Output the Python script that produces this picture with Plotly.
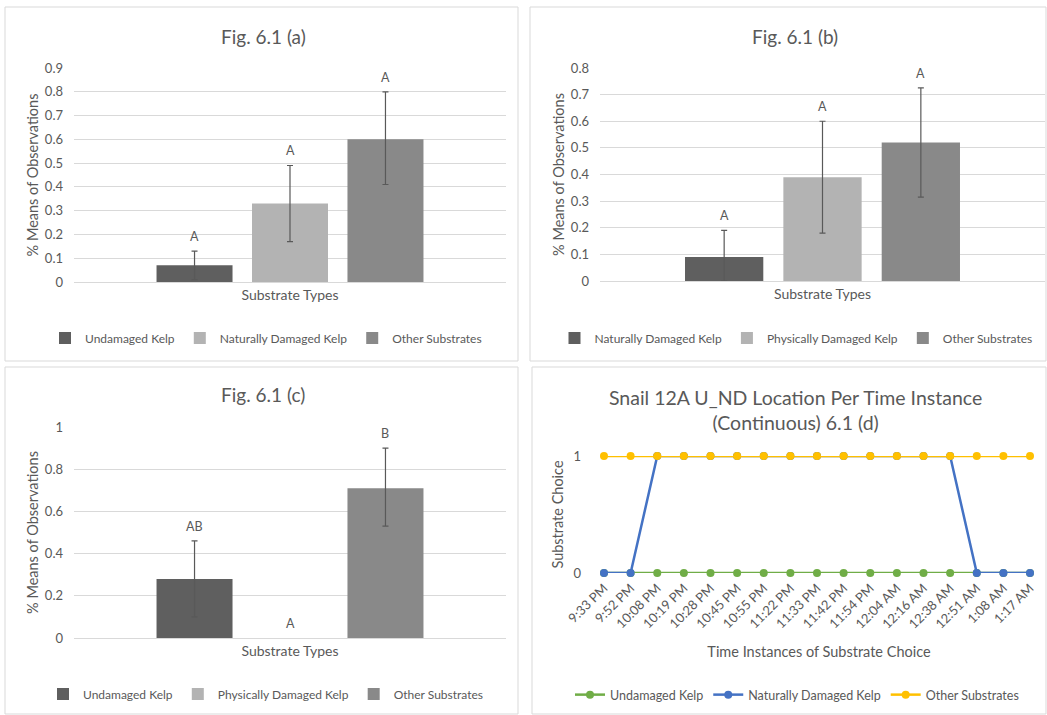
import plotly.graph_objects as go

W, H = 1047, 715
FONT = "Lato, Carlito, Calibri, 'Open Sans', sans-serif"
TXT = "#595959"
GRID = "#d9d9d9"
BARGAP = 0.337
BARGROUPGAP = 0.204

# ---------------- data ----------------
category = ["Substrate Types"]

a_names = ["Undamaged Kelp", "Naturally Damaged Kelp", "Other Substrates"]
a_values = [0.07, 0.33, 0.60]
a_err_plus = [0.06, 0.16, 0.20]
a_err_minus = [0.06, 0.16, 0.19]
a_letters = ["A", "A", "A"]

b_names = ["Naturally Damaged Kelp", "Physically Damaged Kelp", "Other Substrates"]
b_values = [0.09, 0.39, 0.52]
b_err_plus = [0.10, 0.21, 0.205]
b_err_minus = [0.09, 0.21, 0.205]
b_letters = ["A", "A", "A"]

c_names = ["Undamaged Kelp", "Physically Damaged Kelp", "Other Substrates"]
c_values = [0.28, 0.0, 0.71]
c_err_plus = [0.18, 0.0, 0.19]
c_err_minus = [0.18, 0.0, 0.18]
c_letters = ["AB", "A", "B"]

bar_colors = ["#5f5f5f", "#b3b3b3", "#898989"]

times = ["9:33 PM", "9:52 PM", "10:08 PM", "10:19 PM", "10:28 PM", "10:45 PM",
         "10:55 PM", "11:22 PM", "11:33 PM", "11:42 PM", "11:54 PM", "12:04 AM",
         "12:16 AM", "12:38 AM", "12:51 AM", "1:08 AM", "1:17 AM"]
undamaged = [0, 0, 0, 0, 0, 0, 0, 0, 0, 0, 0, 0, 0, 0, 0, 0, 0]
nat_damaged = [0, 0, 1, 1, 1, 1, 1, 1, 1, 1, 1, 1, 1, 1, 0, 0, 0]
other = [1, 1, 1, 1, 1, 1, 1, 1, 1, 1, 1, 1, 1, 1, 1, 1, 1]
line_names = ["Undamaged Kelp", "Naturally Damaged Kelp", "Other Substrates"]
line_colors = ["#70ad47", "#4472c4", "#ffc000"]

# ---------------- helpers ----------------
def px_x(p):
    return p / W

def px_y(p):
    return 1 - p / H

fig = go.Figure()

panels = [
    dict(ax="", names=a_names, vals=a_values, ep=a_err_plus, em=a_err_minus,
         letters=a_letters, legend="legend", rng=[0, 0.9], dtick=0.1,
         xd=[74, 506], yd=[68, 282], title="Fig. 6.1 (a)", tx=263, ty=37,
         lx=266, ly=338),
    dict(ax="2", names=b_names, vals=b_values, ep=b_err_plus, em=b_err_minus,
         letters=b_letters, legend="legend2", rng=[0, 0.8], dtick=0.1,
         xd=[600, 1045], yd=[68, 281], title="Fig. 6.1 (b)", tx=795, ty=37,
         lx=796, ly=338),
    dict(ax="3", names=c_names, vals=c_values, ep=c_err_plus, em=c_err_minus,
         letters=c_letters, legend="legend3", rng=[0, 1.0], dtick=0.2,
         xd=[74, 506], yd=[427, 638], title="Fig. 6.1 (c)", tx=263, ty=395,
         lx=266, ly=694),
]

for p in panels:
    for i, (nm, v) in enumerate(zip(p["names"], p["vals"])):
        fig.add_trace(go.Bar(
            x=category, y=[v], name=nm,
            marker=dict(color=bar_colors[i], line=dict(width=0)),
            error_y=dict(type="data", symmetric=False, array=[p["ep"][i]],
                         arrayminus=[p["em"][i]], color="#595959",
                         thickness=1.2, width=3, visible=p["ep"][i] > 0),
            xaxis="x" + p["ax"], yaxis="y" + p["ax"], legend=p["legend"],
        ))
    # letters above error bars
    n = len(p["vals"])
    for i in range(n):
        pos = (i - (n - 1) / 2) * (1 - BARGAP) / n
        fig.add_annotation(
            x=pos, y=p["vals"][i] + p["ep"][i], xref="x" + p["ax"], yref="y" + p["ax"],
            text=p["letters"][i], showarrow=False, yanchor="bottom", yshift=5,
            font=dict(family=FONT, size=12.5, color=TXT))
    ka = p["ax"]
    fig.update_layout(**{
        "xaxis" + ka: dict(domain=[px_x(p["xd"][0]), px_x(p["xd"][1])],
                           anchor="y" + ka, type="category", showgrid=False,
                           showline=False, ticks="", range=[-0.5, 0.5],
                           automargin=False, ticklabelstandoff=3,
                           tickfont=dict(family=FONT, size=14, color=TXT)),
        "yaxis" + ka: dict(domain=[px_y(p["yd"][1]), px_y(p["yd"][0])],
                           anchor="x" + ka, range=p["rng"], dtick=p["dtick"],
                           gridcolor=GRID, gridwidth=1, zeroline=True,
                           zerolinecolor=GRID, zerolinewidth=1, showline=False,
                           ticks="", automargin=False, ticklabelstandoff=10,
                           tickfont=dict(family=FONT, size=13, color=TXT),
                           title=dict(text="% Means of Observations", standoff=2,
                                      font=dict(family=FONT, size=14.5, color=TXT))),
        p["legend"]: dict(orientation="h", x=px_x(p["lx"]), xanchor="center",
                          y=px_y(p["ly"]), yanchor="middle", itemwidth=30,
                          font=dict(family=FONT, size=12, color=TXT),
                          bgcolor="rgba(0,0,0,0)", traceorder="normal"),
    })
    fig.add_annotation(x=px_x(p["tx"]), y=px_y(p["ty"]), xref="paper", yref="paper",
                       text=p["title"], showarrow=False, xanchor="center",
                       yanchor="middle", font=dict(family=FONT, size=19, color=TXT))

# ---------------- panel d (lines) ----------------
for nm, ys, col in zip(line_names, [undamaged, nat_damaged, other], line_colors):
    fig.add_trace(go.Scatter(
        x=times, y=ys, name=nm, mode="lines+markers",
        line=dict(color=col, width=2.5), marker=dict(color=col, size=8),
        xaxis="x4", yaxis="y4", legend="legend4", cliponaxis=False,
    ))

fig.update_layout(
    xaxis4=dict(domain=[px_x(592), px_x(1046)], anchor="y4", type="category",
                range=[-0.45, 16.6], showgrid=False, showline=False, ticks="",
                tickangle=-45, automargin=False, ticklabelstandoff=4,
                tickfont=dict(family=FONT, size=13, color=TXT),
                title=dict(text="Time Instances of Substrate Choice", standoff=16,
                           font=dict(family=FONT, size=14.5, color=TXT))),
    yaxis4=dict(domain=[px_y(573), px_y(456)], anchor="x4", range=[0, 1],
                tickvals=[0, 1], gridcolor=GRID, zeroline=False, showline=False,
                ticks="", automargin=False, ticklabelstandoff=10,
                tickfont=dict(family=FONT, size=13, color=TXT),
                title=dict(text="Substrate Choice", standoff=6,
                           font=dict(family=FONT, size=14.5, color=TXT))),
    legend4=dict(orientation="h", x=px_x(797), xanchor="center", y=px_y(695),
                 yanchor="middle", font=dict(family=FONT, size=12.5, color=TXT),
                 bgcolor="rgba(0,0,0,0)", traceorder="normal"),
)
fig.add_annotation(x=px_x(795), y=px_y(410), xref="paper", yref="paper",
                   text="Snail 12A U_ND Location Per Time Instance<br>(Continuous) 6.1 (d)",
                   showarrow=False, xanchor="center", yanchor="middle",
                   font=dict(family=FONT, size=19.5, color=TXT))

# ---------------- panel borders ----------------
for x0, y0, x1, y1 in [(5, 7, 518, 361), (530, 7, 1046, 361),
                       (5, 367, 518, 714), (532, 367, 1046, 714)]:
    fig.add_shape(type="rect", xref="paper", yref="paper",
                  x0=px_x(x0), x1=px_x(x1), y0=px_y(y1), y1=px_y(y0),
                  line=dict(color=GRID, width=1), fillcolor="rgba(0,0,0,0)")

fig.update_layout(
    width=W, height=H, margin=dict(l=0, r=0, t=0, b=0, autoexpand=False),
    paper_bgcolor="white", plot_bgcolor="white",
    barmode="group", bargap=BARGAP, bargroupgap=BARGROUPGAP,
    font=dict(family=FONT, color=TXT),
)

fig.write_html("out.html", config={"displayModeBar": False},
               post_script="document.body.style.margin='0';"
                           "document.body.style.overflow='hidden';")
